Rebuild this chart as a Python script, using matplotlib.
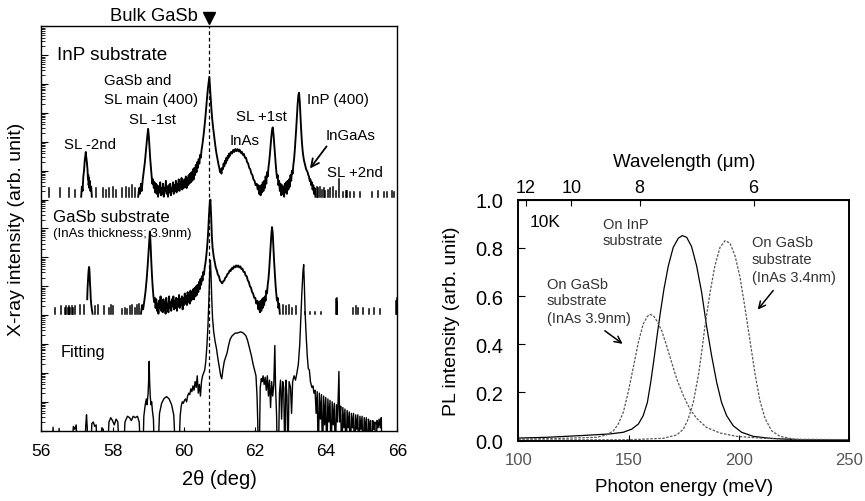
import numpy as np
import matplotlib
matplotlib.use("Agg")
import matplotlib.pyplot as plt
from matplotlib.ticker import LogLocator, NullFormatter, FixedLocator

plt.rcParams['font.family'] = ['Liberation Sans', 'DejaVu Sans']

# ---------------- XRD data: 2theta (deg), log10 relative counts ----------------
OFF_INP, OFF_GASB, OFF_FIT = 8.1, 4.05, 0.0

inp_sl_m2 = [(57.12, 0.0), (57.14, 0.35), (57.16, 0.2), (57.18, 0.7), (57.2, 0.9), (57.22, 1.25),
             (57.24, 1.45), (57.25, 1.55), (57.26, 1.4), (57.28, 1.2), (57.3, 0.9), (57.31, 0.6),
             (57.32, 0.75), (57.33, 0.4), (57.34, 0.65), (57.35, 0.3), (57.36, 0.55), (57.38, 0.2),
             (57.4, 0.35), (57.42, 0.0)]

inp_main = [(58.72, 0.0), (58.75, 0.3), (58.77, 0.1), (58.8, 0.45), (58.82, 0.2), (58.85, 0.6),
            (58.88, 0.9), (58.91, 1.2), (58.94, 1.6), (58.97, 2.0), (59.0, 2.35), (59.02, 2.1),
            (59.04, 1.7), (59.06, 1.3), (59.08, 1.0), (59.1, 0.7), (59.12, 0.45), (59.14, 0.6),
            (59.16, 0.3), (59.18, 0.5), (59.2, 0.15), (59.22, 0.45), (59.24, 0.1), (59.26, 0.4),
            (59.28, 0.0), (59.3, 0.35), (59.32, 0.15), (59.34, 0.5), (59.36, 0.05), (59.38, 0.3),
            (59.4, 0.1), (59.42, 0.45), (59.44, 0.0), (59.46, 0.3), (59.48, 0.2), (59.5, 0.55),
            (59.52, 0.1), (59.54, 0.35), (59.56, 0.0), (59.58, 0.4), (59.6, 0.15), (59.62, 0.45),
            (59.64, 0.05), (59.66, 0.3), (59.68, 0.2), (59.7, 0.5), (59.72, 0.1), (59.74, 0.4),
            (59.76, 0.2), (59.78, 0.55), (59.8, 0.15), (59.82, 0.45), (59.84, 0.25), (59.86, 0.6),
            (59.88, 0.2), (59.9, 0.5), (59.92, 0.3), (59.94, 0.65), (59.96, 0.25), (59.98, 0.55),
            (60.0, 0.3), (60.02, 0.6), (60.04, 0.35), (60.06, 0.7), (60.08, 0.3), (60.1, 0.65),
            (60.12, 0.4), (60.14, 0.75), (60.16, 0.45), (60.18, 0.8), (60.2, 0.5), (60.22, 0.85),
            (60.24, 0.55), (60.26, 0.95), (60.28, 0.6), (60.3, 1.0), (60.32, 0.75), (60.34, 1.1),
            (60.36, 0.85), (60.38, 1.2), (60.4, 1.0), (60.42, 1.3), (60.44, 1.15), (60.46, 1.45),
            (60.48, 1.35), (60.5, 1.6), (60.53, 1.85), (60.56, 2.15), (60.59, 2.5), (60.62, 2.9),
            (60.65, 3.35), (60.68, 3.75), (60.7, 3.95), (60.72, 4.15), (60.74, 3.75), (60.76, 3.35),
            (60.78, 3.0), (60.8, 2.7), (60.83, 2.35), (60.86, 2.05), (60.89, 1.75), (60.92, 1.5),
            (60.95, 1.3), (60.98, 1.1), (61.0, 1.0), (61.02, 0.85), (61.04, 0.95), (61.06, 0.8),
            (61.08, 1.0), (61.1, 0.95), (61.12, 1.15), (61.14, 1.05), (61.16, 1.25), (61.18, 1.15),
            (61.2, 1.35), (61.22, 1.25), (61.24, 1.42), (61.26, 1.35), (61.28, 1.5), (61.3, 1.42),
            (61.33, 1.55), (61.36, 1.5), (61.39, 1.62), (61.42, 1.55), (61.45, 1.65), (61.48, 1.58),
            (61.51, 1.65), (61.54, 1.57), (61.57, 1.63), (61.6, 1.52), (61.63, 1.56), (61.66, 1.45),
            (61.69, 1.48), (61.72, 1.35), (61.75, 1.35), (61.78, 1.2), (61.81, 1.15), (61.84, 1.0),
            (61.87, 0.95), (61.9, 0.8), (61.93, 0.75), (61.96, 0.6), (61.99, 0.55), (62.02, 0.4),
            (62.05, 0.45), (62.08, 0.25), (62.1, 0.4), (62.12, 0.1), (62.14, 0.35), (62.16, 0.05),
            (62.18, 0.4), (62.2, 0.15), (62.22, 0.5), (62.24, 0.2), (62.26, 0.55), (62.28, 0.3),
            (62.3, 0.7), (62.32, 0.45), (62.34, 0.85), (62.36, 0.7), (62.38, 1.0), (62.4, 1.2),
            (62.42, 1.45), (62.44, 1.75), (62.46, 2.05), (62.48, 2.3), (62.5, 2.4), (62.52, 2.2),
            (62.54, 1.85), (62.56, 1.5), (62.58, 1.2), (62.6, 0.9), (62.62, 0.65), (62.64, 0.75),
            (62.66, 0.4), (62.68, 0.55), (62.7, 0.2), (62.72, 0.45), (62.74, 0.05), (62.76, 0.4),
            (62.78, 0.1), (62.8, 0.35), (62.82, 0.0), (62.84, 0.45), (62.86, 0.15), (62.88, 0.5),
            (62.9, 0.1), (62.92, 0.55), (62.94, 0.25), (62.96, 0.6), (62.98, 0.35), (63.0, 0.75),
            (63.02, 0.55), (63.04, 0.9), (63.06, 0.8), (63.08, 1.1), (63.1, 1.3), (63.12, 1.6),
            (63.14, 1.95), (63.16, 2.35), (63.18, 2.8), (63.2, 3.2), (63.22, 3.5), (63.24, 3.6),
            (63.26, 3.3), (63.28, 2.8), (63.3, 2.3), (63.32, 1.9), (63.34, 1.6), (63.36, 1.4),
            (63.38, 1.25), (63.4, 1.15), (63.42, 1.05), (63.44, 0.95), (63.46, 0.9), (63.48, 0.85),
            (63.5, 0.75), (63.52, 0.7), (63.54, 0.55), (63.56, 0.6), (63.58, 0.4), (63.6, 0.5),
            (63.62, 0.25), (63.64, 0.4), (63.66, 0.1), (63.68, 0.3), (63.7, 0.0)]

inp_spikes = [(56.22, 0.3), (56.52, 0.3), (56.78, 0.3), (56.95, 0.25), (57.55, 0.3), (57.72, 0.3),
              (57.82, 0.25), (57.9, 0.3), (58.0, 0.35), (58.1, 0.25), (58.28, 0.3), (58.38, 0.35),
              (58.45, 0.3), (58.55, 0.4), (58.62, 0.3), (63.74, 0.35), (63.78, 0.3), (63.83, 0.35),
              (63.88, 0.25), (63.93, 0.3), (63.98, 0.2), (64.04, 0.25), (64.1, 0.3), (64.2, 0.35),
              (64.28, 0.2), (64.37, 0.6), (64.47, 0.15), (64.55, 0.2), (64.6, 0.2), (64.66, 0.15),
              (64.78, 0.15), (64.95, 0.15), (65.3, 0.15), (65.45, 0.2), (65.62, 0.15), (65.72, 0.15),
              (65.85, 0.2), (65.92, 0.15)]

gasb_sl_m2 = [(57.29, 0.5), (57.3, 0.9), (57.31, 1.1), (57.32, 1.35), (57.33, 1.5), (57.34, 1.62),
              (57.35, 1.55), (57.36, 1.3), (57.37, 1.0), (57.38, 0.8), (57.39, 0.5), (57.4, 0.35),
              (57.42, 0.15), (57.44, 0.0)]

gasb_main = [(58.8, 0.0), (58.83, 0.3), (58.86, 0.15), (58.9, 0.5), (58.93, 0.8), (58.96, 1.2),
             (58.99, 1.7), (59.02, 2.3), (59.05, 2.85), (59.07, 2.4), (59.09, 1.8), (59.11, 1.3),
             (59.13, 0.9), (59.15, 0.6), (59.17, 0.4), (59.19, 0.55), (59.21, 0.2), (59.23, 0.5),
             (59.25, 0.1), (59.27, 0.35), (59.29, 0.0), (59.31, 0.45), (59.33, 0.2), (59.35, 0.6),
             (59.37, 0.1), (59.39, 0.3), (59.41, 0.05), (59.43, 0.5), (59.45, 0.15), (59.47, 0.4),
             (59.49, 0.0), (59.51, 0.55), (59.53, 0.2), (59.55, 0.35), (59.57, 0.05), (59.59, 0.6),
             (59.61, 0.2), (59.63, 0.4), (59.65, 0.1), (59.67, 0.5), (59.69, 0.25), (59.71, 0.6),
             (59.73, 0.15), (59.75, 0.45), (59.77, 0.2), (59.79, 0.55), (59.81, 0.1), (59.83, 0.5),
             (59.85, 0.25), (59.87, 0.65), (59.89, 0.2), (59.91, 0.5), (59.93, 0.3), (59.95, 0.6),
             (59.97, 0.15), (59.99, 0.55), (60.01, 0.3), (60.03, 0.7), (60.05, 0.35), (60.07, 0.6),
             (60.09, 0.3), (60.11, 0.75), (60.13, 0.4), (60.15, 0.65), (60.17, 0.35), (60.19, 0.8),
             (60.21, 0.45), (60.23, 0.75), (60.25, 0.5), (60.27, 0.85), (60.29, 0.5), (60.31, 0.9),
             (60.33, 0.6), (60.35, 0.95), (60.37, 0.65), (60.39, 1.0), (60.41, 0.75), (60.43, 1.1),
             (60.45, 0.85), (60.47, 1.2), (60.49, 1.0), (60.51, 1.3), (60.53, 1.15), (60.55, 1.45),
             (60.57, 1.35), (60.59, 1.6), (60.61, 1.75), (60.63, 1.95), (60.65, 2.2), (60.67, 2.5),
             (60.69, 2.9), (60.71, 3.4), (60.73, 3.8), (60.75, 3.95), (60.77, 3.4), (60.79, 2.7),
             (60.81, 2.3), (60.84, 2.0), (60.87, 1.8), (60.9, 1.6), (60.93, 1.5), (60.96, 1.35),
             (60.99, 1.3), (61.02, 1.15), (61.05, 1.1), (61.08, 1.05), (61.11, 1.12), (61.14, 1.15),
             (61.17, 1.25), (61.2, 1.28), (61.23, 1.38), (61.26, 1.4), (61.29, 1.5), (61.32, 1.48),
             (61.35, 1.58), (61.38, 1.55), (61.41, 1.64), (61.44, 1.6), (61.47, 1.67), (61.5, 1.62),
             (61.53, 1.67), (61.56, 1.6), (61.59, 1.64), (61.62, 1.55), (61.65, 1.56), (61.68, 1.45),
             (61.71, 1.45), (61.74, 1.32), (61.77, 1.3), (61.8, 1.15), (61.83, 1.1), (61.86, 0.95),
             (61.89, 0.9), (61.92, 0.75), (61.95, 0.7), (61.98, 0.55), (62.01, 0.55), (62.04, 0.35),
             (62.07, 0.45), (62.1, 0.15), (62.12, 0.4), (62.14, 0.05), (62.16, 0.45), (62.18, 0.1),
             (62.2, 0.5), (62.22, 0.2), (62.24, 0.55), (62.26, 0.3), (62.28, 0.6), (62.3, 0.45),
             (62.32, 0.8), (62.34, 0.7), (62.36, 1.0), (62.38, 1.2), (62.4, 1.5), (62.42, 1.9),
             (62.44, 2.3), (62.46, 2.7), (62.48, 3.0), (62.5, 2.8), (62.52, 2.3), (62.54, 1.8),
             (62.56, 1.4), (62.58, 1.0), (62.6, 0.7), (62.62, 0.45), (62.64, 0.55), (62.66, 0.2),
             (62.68, 0.35), (62.7, 0.0)]

gasb_spikes = [(56.38, 0.2), (56.55, 0.25), (56.66, 0.2), (56.7, 0.25), (56.74, 0.2), (56.78, 0.25),
               (56.82, 0.2), (56.86, 0.25), (56.9, 0.2), (56.96, 0.25), (57.1, 0.3), (57.2, 0.3),
               (57.52, 0.25), (57.6, 0.3), (57.76, 0.25), (57.9, 0.2), (57.95, 0.3), (58.0, 0.25),
               (58.28, 0.15), (58.34, 0.2), (58.4, 0.15), (58.5, 0.25), (58.56, 0.3), (58.62, 0.2),
               (58.68, 0.3), (58.74, 0.35), (62.78, 0.3), (62.86, 0.25), (62.95, 0.3), (63.05, 0.2),
               (63.15, 0.25), (63.4, 0.05), (63.55, 0.05), (63.7, 0.05), (63.85, 0.05), (64.28, 0.5),
               (64.3, 0.55), (64.32, 0.4), (64.75, 0.2), (64.85, 0.25), (64.9, 0.2), (65.05, 0.2),
               (65.2, 0.15), (65.35, 0.2), (65.5, 0.15), (65.95, 0.45), (65.98, 0.55)]

fit_curve = [(56.3, -1), (56.33, 0.12), (56.36, -1), (56.48, -1), (56.5, 0.08), (56.52, -1),
             (56.85, -1), (56.9, 0.15), (56.94, 0.05), (56.98, 0.2), (57.02, -1), (57.2, -1),
             (57.25, 0.2), (57.27, 0.55), (57.29, 0.1), (57.32, -1), (57.38, -1), (57.42, 0.25),
             (57.46, 0.3), (57.5, 0.15), (57.54, 0.2), (57.58, -1), (57.65, -1), (57.7, 0.1),
             (57.74, 0.05), (57.78, -1), (57.85, -1), (57.9, 0.3), (57.95, 0.45), (58.0, 0.35),
             (58.05, 0.2), (58.1, 0.4), (58.15, 0.3), (58.2, -1), (58.3, -1), (58.35, 0.3),
             (58.42, 0.5), (58.48, 0.45), (58.53, 0.35), (58.58, 0.5), (58.64, 0.45), (58.7, 0.5),
             (58.75, 0.3), (58.8, -1), (58.85, -1), (58.88, 0.5), (58.92, 0.9), (58.95, 1.1),
             (58.97, 0.9), (59.0, 1.3), (59.02, 1.9), (59.03, 2.4), (59.04, 1.8), (59.06, 1.2),
             (59.08, 0.9), (59.1, 1.0), (59.12, 0.7), (59.15, 0.4), (59.18, -1), (59.27, -1),
             (59.32, 0.6), (59.38, 0.95), (59.45, 1.12), (59.52, 1.18), (59.59, 1.1), (59.66, 0.9),
             (59.72, 0.55), (59.78, -1), (59.86, -1), (59.9, 0.5), (59.93, 0.85), (59.96, 1.0),
             (59.99, 0.95), (60.02, 1.05), (60.05, 1.1), (60.08, 1.0), (60.11, 1.2), (60.14, 1.3),
             (60.17, 1.25), (60.2, 1.45), (60.23, 1.35), (60.26, 1.55), (60.29, 1.4), (60.32, 1.7),
             (60.35, 1.5), (60.38, 1.9), (60.41, 1.3), (60.44, 1.6), (60.47, 1.2), (60.5, 1.7),
             (60.53, 1.9), (60.56, 2.0), (60.59, 2.1), (60.62, 2.4), (60.65, 2.9), (60.68, 3.6),
             (60.71, 4.6), (60.73, 5.5), (60.75, 5.9), (60.77, 5.3), (60.79, 4.5), (60.81, 3.9),
             (60.84, 3.45), (60.88, 3.1), (60.92, 2.85), (60.96, 2.5), (61.0, 2.2), (61.04, 1.9),
             (61.07, 1.8), (61.1, 2.1), (61.14, 2.4), (61.18, 2.55), (61.22, 2.7), (61.26, 2.95),
             (61.3, 3.15), (61.35, 3.27), (61.4, 3.33), (61.45, 3.38), (61.5, 3.38), (61.55, 3.4),
             (61.6, 3.42), (61.65, 3.4), (61.7, 3.35), (61.75, 3.28), (61.8, 3.1), (61.85, 2.85),
             (61.9, 2.6), (61.95, 2.3), (62.0, 2.05), (62.03, 1.9), (62.06, 1.2), (62.08, 0.3),
             (62.1, -1), (62.12, -1), (62.15, 1.5), (62.18, 1.8), (62.2, 1.7), (62.23, 1.9),
             (62.26, 1.6), (62.29, 1.85), (62.32, 1.4), (62.35, 1.9), (62.38, 1.2), (62.41, 1.75),
             (62.44, 0.8), (62.47, 1.7), (62.5, 1.2), (62.53, 1.6), (62.56, 2.95), (62.58, 1.5),
             (62.61, 0.5), (62.63, -1), (62.66, -1), (62.69, 1.3), (62.72, 1.75), (62.75, 0.4),
             (62.78, 1.7), (62.81, 1.5), (62.84, -1), (62.87, 1.75), (62.9, 1.2), (62.93, -1),
             (62.96, 1.7), (63.0, 1.5), (63.03, 0.6), (63.06, 1.7), (63.1, 1.9), (63.14, 1.75),
             (63.18, 2.0), (63.22, 2.3), (63.26, 3.0), (63.29, 3.9), (63.32, 4.8), (63.35, 5.5),
             (63.37, 5.75), (63.39, 5.0), (63.41, 4.1), (63.44, 3.3), (63.47, 2.6), (63.5, 2.15),
             (63.53, 2.1), (63.56, 1.7), (63.6, 1.5), (63.63, 1.55), (63.66, 1.3), (63.69, 1.4),
             (63.72, 0.6), (63.75, 1.35), (63.78, -1), (63.81, 1.3), (63.84, 0.4), (63.87, 1.25),
             (63.9, -1), (63.93, 1.2), (63.96, 0.2), (63.99, 1.15), (64.02, -1), (64.05, 1.1),
             (64.08, 0.3), (64.11, 1.05), (64.14, -1), (64.17, 1.0), (64.2, 0.2), (64.23, 0.95),
             (64.26, -1), (64.29, 0.9), (64.32, 0.3), (64.36, 2.05), (64.38, 0.3), (64.41, 0.85),
             (64.44, -1), (64.47, 0.8), (64.5, 0.1), (64.53, 0.75), (64.56, -1), (64.59, 0.7),
             (64.62, 0.1), (64.65, 0.65), (64.68, -1), (64.71, 0.6), (64.74, 0.1), (64.77, 0.6),
             (64.8, -1), (64.83, 0.55), (64.86, 0.05), (64.89, 0.55), (64.92, -1), (64.95, 0.5),
             (64.98, 0.05), (65.01, 0.5), (65.04, -1), (65.07, 0.45), (65.1, 0.0), (65.13, 0.45),
             (65.16, -1), (65.19, 0.4), (65.22, 0.0), (65.25, 0.35), (65.28, -1), (65.31, 0.35),
             (65.34, 0.05), (65.37, 0.3), (65.4, -1), (65.43, 0.35), (65.46, 0.1), (65.49, 0.4),
             (65.52, 0.1), (65.55, 0.45), (65.57, -1)]

BULK_GASB = 60.72

# ---------------- PL data: photon energy (meV), intensity (arb. unit) ----------------
pl_inp_E = [100.0, 112.8, 127.9, 141.5, 147.6, 151.4, 154.4, 156.6, 158.5, 160.0, 161.5, 163.0,
            164.5, 166.0, 168.0, 170.2, 172.5, 174.3, 176.3, 178.5, 180.8, 183.1, 185.3, 187.6,
            189.9, 192.1, 194.4, 197.4, 201.2, 206.5, 214.0, 226.1, 250.0]
pl_inp_I = [0.011, 0.014, 0.021, 0.028, 0.035, 0.048, 0.069, 0.104, 0.159, 0.242, 0.339, 0.443,
            0.539, 0.629, 0.726, 0.802, 0.840, 0.851, 0.844, 0.806, 0.726, 0.615, 0.477, 0.353,
            0.242, 0.159, 0.104, 0.062, 0.035, 0.018, 0.010, 0.004, 0.003]

pl_g39_E = [100.0, 120.4, 135.5, 140.0, 143.1, 145.3, 147.6, 149.8, 152.1, 154.4, 156.6, 158.5,
            159.7, 161.2, 163.0, 165.0, 167.2, 169.5, 171.8, 174.8, 177.8, 180.8, 185.3, 191.4,
            198.9, 211.0, 226.1, 250.0]
pl_g39_I = [0.007, 0.010, 0.014, 0.024, 0.041, 0.069, 0.118, 0.201, 0.304, 0.408, 0.484, 0.516,
            0.524, 0.519, 0.494, 0.456, 0.394, 0.325, 0.256, 0.187, 0.131, 0.093, 0.055, 0.032,
            0.018, 0.010, 0.006, 0.004]

pl_g34_E = [100.0, 150.6, 165.7, 171.8, 174.8, 177.0, 179.3, 181.6, 183.1, 184.6, 186.9, 189.1,
            191.4, 193.7, 195.9, 198.2, 200.5, 202.7, 205.0, 207.3, 209.5, 211.8, 214.8, 218.6,
            224.6, 230.7, 250.0]
pl_g34_I = [0.003, 0.004, 0.010, 0.024, 0.048, 0.090, 0.159, 0.270, 0.367, 0.477, 0.615, 0.726,
            0.802, 0.830, 0.820, 0.768, 0.678, 0.553, 0.415, 0.277, 0.166, 0.093, 0.041, 0.018,
            0.007, 0.003, 0.001]

wl_ticks = [12, 10, 8, 6]
E_ticks = [100, 150, 200, 250]
I_ticks = [0.0, 0.2, 0.4, 0.6, 0.8, 1.0]


def curve(pairs, off):
    x, l = zip(*pairs)
    return np.array(x), 10.0 ** (np.array(l, dtype=float) + off)


def spikes(pairs, off):
    xs, ys = [], []
    for x, h in pairs:
        xs += [x, x, np.nan]
        ys += [10.0 ** off, 10.0 ** (h + off), np.nan]
    return np.array(xs), np.array(ys)


fig = plt.figure(figsize=(8.65, 5.02), dpi=100)

# ---------------- left panel ----------------
axL = fig.add_axes([0.04775, 0.14004, 0.41156, 0.80558])
axL.set_yscale('log')
MEAS_LW = 1.35
for seg in (inp_sl_m2, inp_main):
    axL.plot(*curve(seg, OFF_INP), color='k', lw=MEAS_LW)
axL.plot(*spikes(inp_spikes, OFF_INP), color='k', lw=1.1)
for seg in (gasb_sl_m2, gasb_main):
    axL.plot(*curve(seg, OFF_GASB), color='k', lw=MEAS_LW)
axL.plot(*spikes(gasb_spikes, OFF_GASB), color='k', lw=1.1)
axL.plot(*curve(fit_curve, OFF_FIT), color='k', lw=1.0)
axL.axvline(BULK_GASB, color='k', lw=0.9, ls=(0, (3, 2.2)))

axL.set_xlim(56, 66)
axL.set_ylim(1, 1e14)
axL.set_xticks([56, 58, 60, 62, 64, 66])
axL.yaxis.set_major_locator(LogLocator(base=10, numticks=30))
axL.yaxis.set_minor_locator(LogLocator(base=10, subs=np.arange(2, 10), numticks=30))
axL.yaxis.set_major_formatter(NullFormatter())
axL.yaxis.set_minor_formatter(NullFormatter())
axL.tick_params(axis='y', which='major', direction='in', length=5, width=0.8)
axL.tick_params(axis='y', which='minor', direction='in', length=3, width=0.6)
axL.tick_params(axis='x', direction='in', length=3, labelsize=12.5, pad=9)
axL.set_xlabel('2θ (deg)', fontsize=14.5)
axL.xaxis.set_label_coords(0.5, -0.119)
axL.xaxis.label.set_va('center')
axL.set_ylabel('X-ray intensity (arb. unit)', fontsize=14)
axL.yaxis.set_label_coords(-0.069, 0.5)
axL.yaxis.label.set_va('center')
for s in axL.spines.values():
    s.set_linewidth(1.0)

def L(v):
    return 10.0 ** v

axL.text(56.45, L(13.02), 'InP substrate', fontsize=13.6, ha='left', va='center')
axL.text(57.77, L(12.14), 'GaSb and', fontsize=10.8, ha='left', va='center')
axL.text(57.77, L(11.5), 'SL main (400)', fontsize=10.8, ha='left', va='center')
axL.text(59.11, L(10.78), 'SL -1st', fontsize=10.8, ha='center', va='center')
axL.text(57.38, L(9.91), 'SL -2nd', fontsize=10.8, ha='center', va='center')
axL.text(62.18, L(10.9), 'SL +1st', fontsize=10.8, ha='center', va='center')
axL.text(61.72, L(10.05), 'InAs', fontsize=10.8, ha='center', va='center')
axL.text(63.455, L(11.5), 'InP (400)', fontsize=10.8, ha='left', va='center')
axL.text(64.69, L(10.22), 'InGaAs', fontsize=10.8, ha='center', va='center')
axL.text(64.81, L(8.96), 'SL +2nd', fontsize=10.8, ha='center', va='center')
axL.annotate('', xy=(63.50, L(9.0)), xytext=(64.06, L(9.92)),
             arrowprops=dict(arrowstyle='->', color='k', lw=1.3, mutation_scale=14))
axL.text(56.34, L(7.43), 'GaSb substrate', fontsize=12.1, ha='left', va='center')
axL.text(56.33, L(6.85), '(InAs thickness; 3.9nm)', fontsize=9.5, ha='left', va='center')
axL.text(56.55, L(2.74), 'Fitting', fontsize=11.8, ha='left', va='center')

xt = axL.get_xaxis_transform()
axL.text(60.41, 1.027, 'Bulk GaSb', fontsize=13.2, ha='right', va='center', transform=xt)
axL.plot([BULK_GASB], [1.021], marker='v', color='k', markersize=8, transform=xt, clip_on=False)

# ---------------- right panel ----------------
axR = fig.add_axes([0.59919, 0.12012, 0.38266, 0.48008])
axR.plot(pl_inp_E, pl_inp_I, color='k', lw=0.9)
axR.plot(pl_g39_E, pl_g39_I, color='#555555', lw=0.9, ls=(0, (2, 1.2)))
axR.plot(pl_g34_E, pl_g34_I, color='#555555', lw=0.9, ls=(0, (2, 1.2)))
axR.set_xlim(100, 250)
axR.set_ylim(0, 1.0)
axR.set_xticks(E_ticks)
axR.set_yticks(I_ticks)
axR.set_yticklabels(['%.1f' % v for v in I_ticks])
axR.tick_params(axis='x', direction='in', length=4, labelsize=12, pad=8, labelcolor='#555555')
axR.tick_params(axis='y', direction='in', length=5, labelsize=14.5, pad=11)
axR.set_xlabel('Photon energy (meV)', fontsize=13.5)
axR.xaxis.set_label_coords(0.5, -0.192)
axR.xaxis.label.set_va('center')
axR.set_ylabel('PL intensity (arb. unit)', fontsize=14)
axR.yaxis.set_label_coords(-0.201, 0.5)
axR.yaxis.label.set_va('center')
for s in axR.spines.values():
    s.set_linewidth(1.4)


def e2wl(E):
    E = np.asarray(E, dtype=float)
    with np.errstate(divide='ignore', invalid='ignore'):
        return 1239.84 / E


sec = axR.secondary_xaxis('top', functions=(e2wl, e2wl))
sec.xaxis.set_major_locator(FixedLocator(wl_ticks))
sec.xaxis.set_minor_locator(FixedLocator([]))
sec.set_xticklabels([str(w) for w in wl_ticks])
sec.tick_params(axis='x', direction='in', length=4, labelsize=13, pad=3)
sec.set_xlabel('Wavelength (μm)', fontsize=13.5, labelpad=9)

gray = '#333333'
axR.text(104.98, 0.911, '10K', fontsize=12.5, ha='left', va='center')
axR.text(138.2, 0.90, 'On InP', fontsize=10.5, ha='left', va='center', color=gray)
axR.text(138.2, 0.832, 'substrate', fontsize=10.5, ha='left', va='center', color=gray)
axR.text(112.9, 0.651, 'On GaSb', fontsize=10.5, ha='left', va='center', color=gray)
axR.text(112.9, 0.583, 'substrate', fontsize=10.5, ha='left', va='center', color=gray)
axR.text(112.9, 0.509, '(InAs 3.9nm)', fontsize=10.5, ha='left', va='center', color=gray)
axR.text(205.8, 0.825, 'On GaSb', fontsize=10.5, ha='left', va='center', color=gray)
axR.text(205.8, 0.756, 'substrate', fontsize=10.5, ha='left', va='center', color=gray)
axR.text(205.8, 0.681, '(InAs 3.4nm)', fontsize=10.5, ha='left', va='center', color=gray)
axR.annotate('', xy=(148.3, 0.395), xytext=(138.2, 0.463),
             arrowprops=dict(arrowstyle='->', color='k', lw=1.1, mutation_scale=12))
axR.annotate('', xy=(207.7, 0.535), xytext=(216.3, 0.632),
             arrowprops=dict(arrowstyle='->', color='k', lw=1.1, mutation_scale=12))

fig.savefig('out.png', dpi=100)
